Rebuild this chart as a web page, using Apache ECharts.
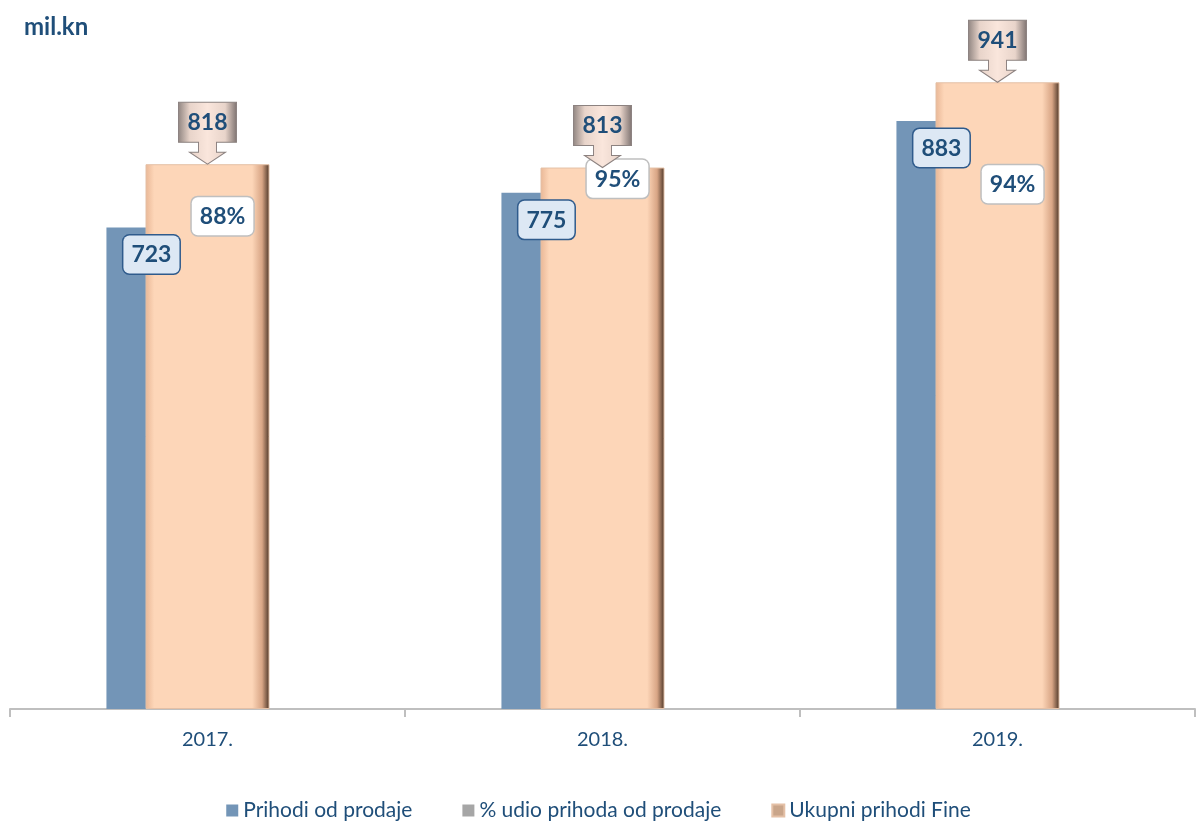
<!DOCTYPE html>
<html>
<head>
<meta charset="utf-8">
<script src="https://cdn.jsdelivr.net/npm/echarts@6/dist/echarts.min.js"></script>
<style>
  html, body { margin: 0; padding: 0; background: #fff; }
  #chart { width: 1197px; height: 821px; }
</style>
</head>
<body>
<div id="chart"></div>
<script>
var years = ['2017.', '2018.', '2019.'];
var prihodiProdaje = [723, 775, 883];
var udioProdaje = [88, 95, 94];
var ukupniPrihodi = [818, 813, 941];

var seriesNames = ['Prihodi od prodaje', '% udio prihoda od prodaje', 'Ukupni prihodi Fine'];
var textBlue = '#1f4e79';

var myChart = echarts.init(document.getElementById('chart'));

// callout shape: box with a down arrow under it
var calloutPath = 'path://M0 0 L58 0 L58 40 L38 40 L38 50 L47 50 L29 62 L11 50 L20 50 L20 40 L0 40 Z';

var calloutData = [];
for (var i = 0; i < ukupniPrihodi.length; i++) {
  calloutData.push({ coord: [i, ukupniPrihodi[i]], value: ukupniPrihodi[i] });
}

var options = {
  animation: false,
  title: {
    text: 'mil.kn',
    left: 19,
    top: 10,
    textStyle: { color: textBlue, fontFamily: 'Lato', fontWeight: 'bold', fontSize: 24 }
  },
  legend: {
    top: 795,
    left: 'center',
    itemWidth: 12,
    itemHeight: 12,
    itemGap: 50,
    textStyle: { color: textBlue, fontFamily: 'Lato', fontSize: 21 },
    data: [
      { name: seriesNames[0], icon: 'rect' },
      { name: seriesNames[1], icon: 'rect', itemStyle: { color: '#a6a6a6' } },
      { name: seriesNames[2], icon: 'rect', itemStyle: { color: '#c9a58a' } }
    ]
  },
  grid: { left: 10, right: 2, top: 43, bottom: 112 },
  xAxis: [{
    type: 'category',
    data: years,
    axisLine: { lineStyle: { color: '#bfbfbf', width: 2 } },
    axisTick: { show: true, length: 8, lineStyle: { color: '#bfbfbf', width: 2 } },
    axisLabel: { margin: 21, fontSize: 20, fontFamily: 'Lato', color: textBlue }
  }],
  yAxis: [
    { type: 'value', min: 0, max: 1000, show: false },
    { type: 'value', min: 0, max: 125, show: false }
  ],
  series: [
    {
      name: seriesNames[0],
      type: 'bar',
      barWidth: 124,
      barGap: '-68.5%',
      data: prihodiProdaje,
      itemStyle: { color: '#7395b7' },
      label: {
        show: true,
        position: 'insideTop',
        offset: [-17, 3],
        color: textBlue,
        fontFamily: 'Lato',
        fontWeight: 'bold',
        fontSize: 23,
        backgroundColor: '#dde8f4',
        borderColor: '#2f5b8c',
        borderWidth: 1.5,
        borderRadius: 6,
        padding: [8, 8, 7, 8]
      }
    },
    {
      name: seriesNames[2],
      type: 'bar',
      barWidth: 124,
      data: ukupniPrihodi,
      itemStyle: {
        color: new echarts.graphic.LinearGradient(0, 0, 1, 0, [
          { offset: 0, color: '#e9b796' },
          { offset: 0.07, color: '#fdd6b8' },
          { offset: 0.86, color: '#fdd6b8' },
          { offset: 0.94, color: '#d8a585' },
          { offset: 1, color: '#4a3426' }
        ]),
        borderColor: '#e4c0a6',
        borderWidth: 1
      },
      markPoint: {
        symbol: calloutPath,
        symbolSize: [58, 62],
        symbolOffset: [0, '-50%'],
        symbolKeepAspect: false,
        itemStyle: {
          color: new echarts.graphic.LinearGradient(0, 0, 1, 0, [
            { offset: 0, color: '#8f8480' },
            { offset: 0.2, color: '#e8d4ca' },
            { offset: 0.5, color: '#fae6dc' },
            { offset: 0.8, color: '#e8d4ca' },
            { offset: 1, color: '#7d7270' }
          ]),
          borderColor: '#8c8280',
          borderWidth: 1
        },
        label: {
          show: true,
          position: 'inside',
          offset: [0, -11],
          color: textBlue,
          fontFamily: 'Lato',
          fontWeight: 'bold',
          fontSize: 23
        },
        data: calloutData
      }
    },
    {
      name: seriesNames[1],
      type: 'bar',
      yAxisIndex: 1,
      barWidth: 124,
      data: udioProdaje,
      itemStyle: { color: 'rgba(0,0,0,0)' },
      label: {
        show: true,
        position: 'top',
        offset: [-24, 0],
        formatter: '{c}%',
        color: textBlue,
        fontFamily: 'Lato',
        fontWeight: 'bold',
        fontSize: 23,
        backgroundColor: '#ffffff',
        borderColor: '#bfbfbf',
        borderWidth: 1.5,
        borderRadius: 6,
        padding: [8, 8, 7, 8]
      }
    }
  ]
};

myChart.setOption(options, true);
</script>
</body>
</html>
